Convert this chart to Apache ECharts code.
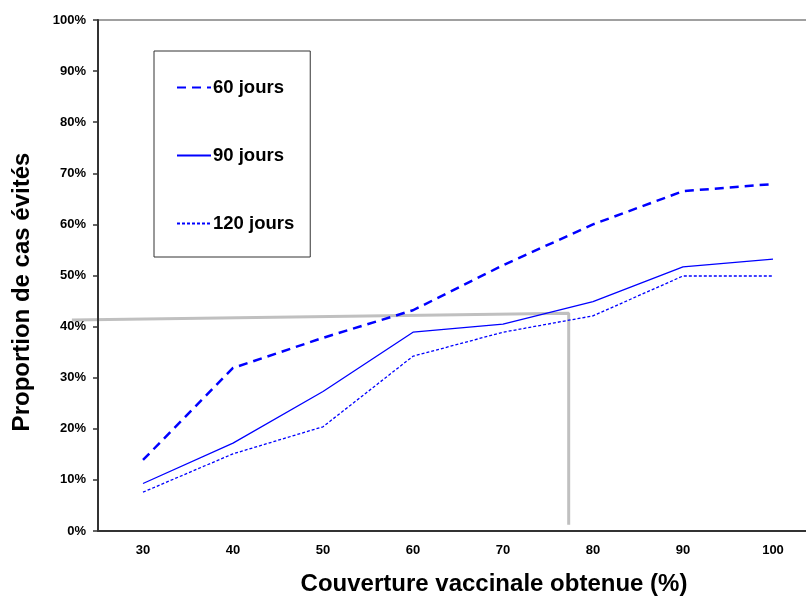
<!DOCTYPE html>
<html>
<head>
<meta charset="utf-8">
<script src="https://cdn.jsdelivr.net/npm/echarts@6/dist/echarts.min.js"></script>
<style>
  html, body { margin: 0; padding: 0; background: #fff; }
  #chart { width: 806px; height: 599px; }
</style>
</head>
<body>
<div id="chart"></div>
<script>
// couverture vaccinale (%)
const couverture = ["30", "40", "50", "60", "70", "80", "90", "100"];
// proportion de cas évités (%)
const jours60 = [13.9, 31.9, 37.8, 43.2, 52.0, 60.0, 66.5, 67.9];
const jours90 = [9.3, 17.2, 27.3, 38.9, 40.5, 44.9, 51.7, 53.2];
const jours120 = [7.6, 15.1, 20.4, 34.2, 38.9, 42.1, 49.9, 49.9];
// ligne de lecture grise [couverture, proportion]
const lecture = [[22.1, 41.3], [77.3, 42.6], [77.3, 1.2]];
const yTicks = [0, 10, 20, 30, 40, 50, 60, 70, 80, 90, 100];

const chart = echarts.init(document.getElementById('chart'));
const font = 'Liberation Sans, Arial, sans-serif';

// 9 px par point de couverture : 8 catégories de 10 points sur 720 px
const option = {
  backgroundColor: '#fff',
  animation: false,
  textStyle: { fontFamily: font },
  grid: [
    { left: 98, top: 20, width: 720, height: 511, outerBoundsMode: 'none', containLabel: false },
    // grille cachée pour la ligne de lecture, qui déborde à gauche de l'axe
    { left: 53, top: 20, width: 765, height: 511, outerBoundsMode: 'none', containLabel: false }
  ],
  legend: {
    data: ['60 jours', '90 jours', '120 jours'],
    orient: 'vertical',
    left: 154,
    top: 51,
    itemWidth: 34,
    itemHeight: 14,
    itemGap: 49,
    padding: [27, 16, 24, 22],
    borderColor: '#333',
    borderWidth: 1,
    itemStyle: { opacity: 0 },
    textStyle: { fontFamily: font, fontSize: 18.5, fontWeight: 'bold', color: '#000', padding: [0, 0, 0, -3] }
  },
  xAxis: [
    {
      type: 'category',
      gridIndex: 0,
      data: couverture,
      boundaryGap: true,
      axisLine: { lineStyle: { color: '#333', width: 2 } },
      axisTick: { length: 5, lineStyle: { color: '#333', width: 1.5 } },
      axisLabel: { fontFamily: font, fontSize: 13, fontWeight: 'bold', color: '#000', margin: 13 },
      splitLine: { show: false }
    },
    {
      type: 'value',
      gridIndex: 1,
      min: 20,
      max: 105,
      show: false
    },
    {
      // bord supérieur gris de la zone de tracé
      type: 'category',
      gridIndex: 0,
      position: 'top',
      data: couverture,
      axisLine: { show: true, lineStyle: { color: '#a0a0a0', width: 2 } },
      axisTick: { show: false },
      axisLabel: { show: false },
      splitLine: { show: false }
    }
  ],
  yAxis: [
    {
      type: 'value',
      gridIndex: 0,
      min: 0,
      max: 100,
      interval: 10,
      axisLine: { show: true, lineStyle: { color: '#333', width: 2 } },
      axisTick: { show: true, length: 5, lineStyle: { color: '#333', width: 1.5 } },
      axisLabel: {
        fontFamily: font, fontSize: 13, fontWeight: 'bold', color: '#000', margin: 12,
        formatter: v => yTicks.includes(v) ? v + '%' : ''
      },
      splitLine: { show: false },
      z: 5
    },
    {
      type: 'value',
      gridIndex: 1,
      min: 0,
      max: 100,
      show: false
    }
  ],
  graphic: [
    {
      type: 'text',
      x: 494,
      y: 572,
      style: {
        text: 'Couverture vaccinale obtenue (%)',
        font: 'bold 24px ' + font,
        fill: '#000',
        align: 'center',
        verticalAlign: 'top'
      }
    },
    {
      type: 'text',
      x: 10,
      y: 292,
      rotation: Math.PI / 2,
      style: {
        text: 'Proportion de cas évités',
        font: 'bold 24px ' + font,
        fill: '#000',
        align: 'center',
        verticalAlign: 'top'
      }
    }
  ],
  series: [
    {
      name: 'lecture',
      type: 'line',
      xAxisIndex: 1,
      yAxisIndex: 1,
      data: lecture,
      symbol: 'none',
      clip: false,
      silent: true,
      z: 1,
      lineStyle: { color: '#c0c0c0', width: 3 }
    },
    {
      name: '60 jours',
      type: 'line',
      data: jours60,
      symbol: 'none',
      z: 3,
      lineStyle: { color: '#0000ff', width: 2.5, type: [9, 6] },
      itemStyle: { color: '#0000ff' }
    },
    {
      name: '90 jours',
      type: 'line',
      data: jours90,
      symbol: 'none',
      z: 3,
      lineStyle: { color: '#0000ff', width: 1.3, type: 'solid' },
      itemStyle: { color: '#0000ff' }
    },
    {
      name: '120 jours',
      type: 'line',
      data: jours120,
      symbol: 'none',
      z: 3,
      lineStyle: { color: '#0000ff', width: 1.3, type: [3, 2] },
      itemStyle: { color: '#0000ff' }
    }
  ]
};

chart.setOption(option);
</script>
</body>
</html>
